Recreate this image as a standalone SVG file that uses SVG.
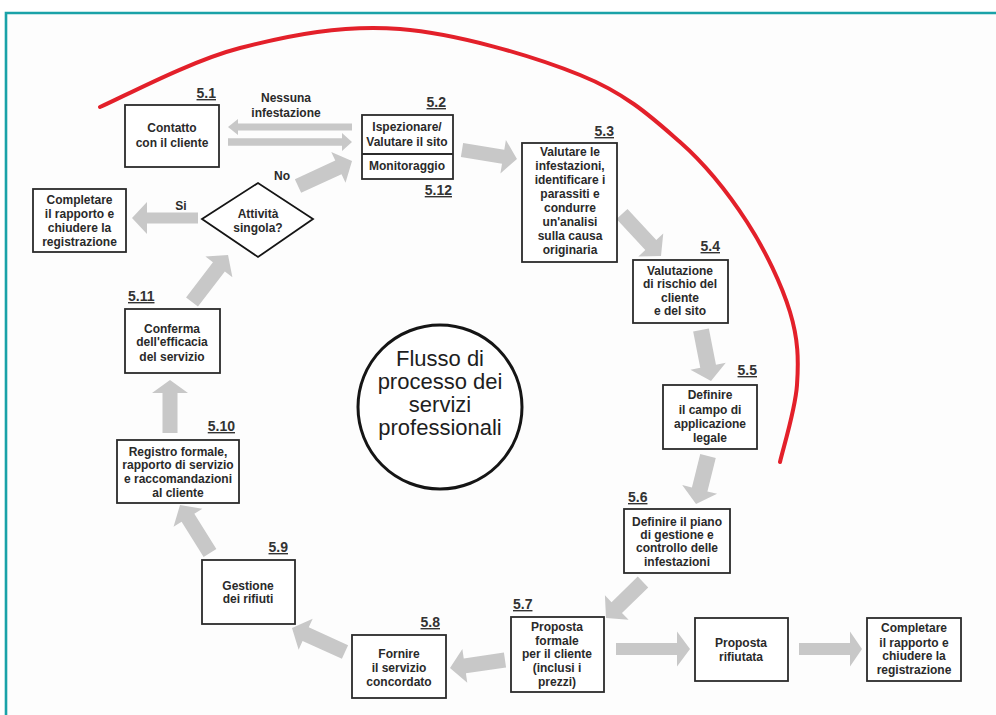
<svg xmlns="http://www.w3.org/2000/svg" width="996" height="715" viewBox="0 0 996 715">
  <style>
    .box { fill: #ffffff; stroke: #2b2b2b; stroke-width: 1.8; }
    .t { font-family: "Liberation Sans", Arial, sans-serif; font-size: 12px; font-weight: bold; fill: #2a2a2a; text-anchor: middle; }
    .num { font-family: "Liberation Sans", Arial, sans-serif; font-size: 14px; font-weight: bold; fill: #333333; text-decoration: underline; }
    .end { text-anchor: end; }
    .arrow { fill: #c8c8c8; }
    .title { font-family: "Liberation Sans", Arial, sans-serif; font-size: 22px; fill: #1e1e1e; text-anchor: middle; }
  </style>

  <!-- page background and frame -->
  <rect x="0" y="0" width="996" height="715" fill="#ffffff"/>
  <rect x="7" y="14" width="989" height="701" fill="#fdfdfd"/>
  <path d="M6,715 L6,13 L996,13" fill="none" stroke="#1aa2a8" stroke-width="2.6"/>

  <!-- red sweep over the upper half of the cycle -->
  <path id="sweep" d="M100,107 C123,97 190,61 240,48 C290,35 343,24.5 400,29 C456.7,33.5 533,56 580,75 C626.7,93.8 652,117.5 680,142 C707.8,166.5 728.7,193.7 747,222 C765.3,250.3 781.7,284.8 790,312 C798.3,339.2 798.7,360 797,385 C795.3,410 782.8,449.2 780,462" fill="none" stroke="#e3202a" stroke-width="4" stroke-linecap="round"/>

  <!-- connectors: block arrows, local shape points along +x from tail to tip -->
  <g id="connectors">
    <polygon class="arrow" transform="translate(352 127) rotate(180)" points="0,-3.5 114,-3.5 114,-8 124,0 114,8 114,3.5 0,3.5"/>
    <polygon class="arrow" transform="translate(228 142)" points="0,-3.8 114,-3.8 114,-9 124,0 114,9 114,3.8 0,3.8"/>
    <polygon class="arrow" transform="translate(462 150) rotate(9.3)" points="0,-7 41.7,-7 41.7,-17 55.7,0 41.7,17 41.7,7 0,7"/>
    <polygon class="arrow" transform="translate(622 214) rotate(47.1)" points="0,-7.5 42.3,-7.5 42.3,-17 57.3,0 42.3,17 42.3,7.5 0,7.5"/>
    <polygon class="arrow" transform="translate(701 330) rotate(78.9)" points="0,-8 37,-8 37,-18 52,0 37,18 37,8 0,8"/>
    <polygon class="arrow" transform="translate(708 456) rotate(104)" points="0,-8 34.5,-8 34.5,-18 49.5,0 34.5,18 34.5,8 0,8"/>
    <polygon class="arrow" transform="translate(643 582) rotate(135.8)" points="0,-7.5 36.6,-7.5 36.6,-17 51.6,0 36.6,17 36.6,7.5 0,7.5"/>
    <polygon class="arrow" transform="translate(505 660) rotate(171.7)" points="0,-7.5 40.6,-7.5 40.6,-17 55.6,0 40.6,17 40.6,7.5 0,7.5"/>
    <polygon class="arrow" transform="translate(345 652) rotate(204.4)" points="0,-7.5 43.2,-7.5 43.2,-17 58.2,0 43.2,17 43.2,7.5 0,7.5"/>
    <polygon class="arrow" transform="translate(210 553) rotate(238)" points="0,-7.5 41.6,-7.5 41.6,-17 56.6,0 41.6,17 41.6,7.5 0,7.5"/>
    <polygon class="arrow" transform="translate(170 433) rotate(-90)" points="0,-7.5 40,-7.5 40,-18 53,0 40,18 40,7.5 0,7.5"/>
    <polygon class="arrow" transform="translate(192 302) rotate(-52.5)" points="0,-7.5 44.2,-7.5 44.2,-17 59.2,0 44.2,17 44.2,7.5 0,7.5"/>
    <polygon class="arrow" transform="translate(198 218) rotate(180)" points="0,-5.5 51,-5.5 51,-16 66,0 51,16 51,5.5 0,5.5"/>
    <polygon class="arrow" transform="translate(298 186) rotate(-24.8)" points="0,-7.5 44.5,-7.5 44.5,-17 59.5,0 44.5,17 44.5,7.5 0,7.5"/>
    <polygon class="arrow" transform="translate(616 649)" points="0,-6 61,-6 61,-17.5 74,0 61,17.5 61,6 0,6"/>
    <polygon class="arrow" transform="translate(799 649)" points="0,-6 51,-6 51,-17.5 63,0 51,17.5 51,6 0,6"/>
    <text class="t" x="286" y="102">Nessuna</text>
    <text class="t" x="286" y="117">infestazione</text>
    <text class="t" x="282" y="180">No</text>
    <text class="t" x="181" y="210">Si</text>
  </g>

  <!-- central title -->
  <g id="title">
    <circle cx="440" cy="407" r="82" fill="#ffffff" stroke="#151515" stroke-width="3"/>
    <text class="title" x="440" y="366">Flusso di</text>
    <text class="title" x="440" y="389">processo dei</text>
    <text class="title" x="440" y="412">servizi</text>
    <text class="title" x="440" y="435">professionali</text>
  </g>

  <g id="n5-1">
    <rect class="box" x="125" y="105" width="94" height="62"/>
    <text class="num end" x="216" y="98">5.1</text>
    <text class="t" x="172" y="132">Contatto</text>
    <text class="t" x="172" y="147">con il cliente</text>
  </g>

  <g id="n5-2">
    <rect class="box" x="362" y="115" width="91" height="64"/>
    <line x1="362" y1="154" x2="453" y2="154" stroke="#2b2b2b" stroke-width="1.8"/>
    <text class="num end" x="446" y="107">5.2</text>
    <text class="t" x="407" y="131">Ispezionare/</text>
    <text class="t" x="407" y="146">Valutare il sito</text>
    <text class="t" x="407" y="170">Monitoraggio</text>
    <text class="num end" x="452" y="195">5.12</text>
  </g>

  <g id="n5-3">
    <rect class="box" x="522" y="143" width="95" height="119"/>
    <text class="num end" x="614" y="136">5.3</text>
    <text class="t" x="570" y="156">Valutare le</text>
    <text class="t" x="570" y="170">infestazioni,</text>
    <text class="t" x="570" y="184">identificare i</text>
    <text class="t" x="570" y="198">parassiti e</text>
    <text class="t" x="570" y="212">condurre</text>
    <text class="t" x="570" y="226">un'analisi</text>
    <text class="t" x="570" y="240">sulla causa</text>
    <text class="t" x="570" y="254">originaria</text>
  </g>

  <g id="n5-4">
    <rect class="box" x="633" y="260" width="95" height="63"/>
    <text class="num end" x="720" y="251">5.4</text>
    <text class="t" x="680" y="275">Valutazione</text>
    <text class="t" x="680" y="288">di rischio del</text>
    <text class="t" x="680" y="302">cliente</text>
    <text class="t" x="680" y="315">e del sito</text>
  </g>

  <g id="n5-5">
    <rect class="box" x="663" y="385" width="94" height="64"/>
    <text class="num end" x="757" y="375">5.5</text>
    <text class="t" x="710" y="399">Definire</text>
    <text class="t" x="710" y="414">il campo di</text>
    <text class="t" x="710" y="428">applicazione</text>
    <text class="t" x="710" y="442">legale</text>
  </g>

  <g id="n5-6">
    <rect class="box" x="624" y="509" width="106" height="64"/>
    <text class="num" x="628" y="502">5.6</text>
    <text class="t" x="677" y="526">Definire il piano</text>
    <text class="t" x="677" y="539">di gestione e</text>
    <text class="t" x="677" y="552">controllo delle</text>
    <text class="t" x="677" y="566">infestazioni</text>
  </g>

  <g id="n5-7">
    <rect class="box" x="511" y="617" width="93" height="75"/>
    <text class="num" x="513" y="609">5.7</text>
    <text class="t" x="557" y="631">Proposta</text>
    <text class="t" x="557" y="645">formale</text>
    <text class="t" x="557" y="658">per il cliente</text>
    <text class="t" x="557" y="672">(inclusi i</text>
    <text class="t" x="557" y="686">prezzi)</text>
  </g>

  <g id="n-rifiutata">
    <rect class="box" x="695" y="618" width="93" height="63"/>
    <text class="t" x="741" y="647">Proposta</text>
    <text class="t" x="741" y="661">rifiutata</text>
  </g>

  <g id="n-chiusura-destra">
    <rect class="box" x="867" y="618" width="94" height="63"/>
    <text class="t" x="914" y="632">Completare</text>
    <text class="t" x="914" y="647">il rapporto e</text>
    <text class="t" x="914" y="660">chiudere la</text>
    <text class="t" x="914" y="674">registrazione</text>
  </g>

  <g id="n5-8">
    <rect class="box" x="352" y="635" width="94" height="63"/>
    <text class="num end" x="440" y="627">5.8</text>
    <text class="t" x="399" y="658">Fornire</text>
    <text class="t" x="399" y="672">il servizio</text>
    <text class="t" x="399" y="686">concordato</text>
  </g>

  <g id="n5-9">
    <rect class="box" x="202" y="560" width="93" height="64"/>
    <text class="num end" x="288" y="552">5.9</text>
    <text class="t" x="248" y="590">Gestione</text>
    <text class="t" x="248" y="603">dei rifiuti</text>
  </g>

  <g id="n5-10">
    <rect class="box" x="117" y="440" width="122" height="63"/>
    <text class="num end" x="235" y="431">5.10</text>
    <text class="t" x="178" y="456">Registro formale,</text>
    <text class="t" x="178" y="469">rapporto di servizio</text>
    <text class="t" x="178" y="483">e raccomandazioni</text>
    <text class="t" x="178" y="497">al cliente</text>
  </g>

  <g id="n5-11">
    <rect class="box" x="125" y="309" width="95" height="64"/>
    <text class="num" x="128" y="301">5.11</text>
    <text class="t" x="172" y="333">Conferma</text>
    <text class="t" x="172" y="346">dell'efficacia</text>
    <text class="t" x="172" y="361">del servizio</text>
  </g>

  <g id="decisione">
    <polygon points="202,219 258,183 313,219 258,257" fill="#ffffff" stroke="#151515" stroke-width="1.8"/>
    <text class="t" x="258" y="218">Attività</text>
    <text class="t" x="258" y="232">singola?</text>
  </g>

  <g id="n-chiusura-sinistra">
    <rect class="box" x="33" y="189" width="93" height="63"/>
    <text class="t" x="79.5" y="204">Completare</text>
    <text class="t" x="79.5" y="218">il rapporto e</text>
    <text class="t" x="79.5" y="232">chiudere la</text>
    <text class="t" x="79.5" y="246">registrazione</text>
  </g>
</svg>
